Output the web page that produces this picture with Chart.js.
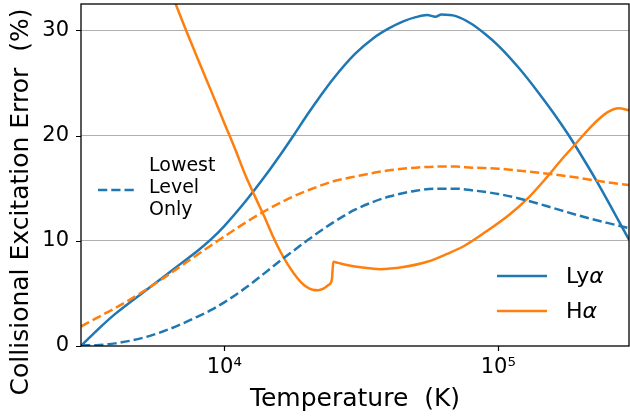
<!DOCTYPE html>
<html>
<head>
<meta charset="utf-8">
<script src="https://cdn.jsdelivr.net/npm/chart.js@4"></script>
<style>
  html, body { margin: 0; padding: 0; background: #fff; }
  canvas { display: block; }
</style>
</head>
<body>
<canvas id="chart" width="630" height="416"></canvas>
<script>
// temperature (K) and error (%) for each curve
const lyaT   = [3000, 3500, 4000, 5000, 6000, 7000, 8000, 9000, 10000, 12000, 14000, 16000, 18000, 20000, 22500, 25000, 30000, 35000, 40000, 45000, 50000, 55000, 59000, 62000, 70000, 80000, 90000, 100000, 120000, 140000, 160000, 180000, 200000, 230000, 260000, 300000];
const lyaErr = [0, 1.7, 3.05, 5.0, 6.55, 7.9, 9.05, 10.2, 11.4, 13.8, 16.05, 18.15, 20.1, 21.9, 23.8, 25.4, 27.75, 29.25, 30.2, 30.85, 31.25, 31.45, 31.3, 31.5, 31.35, 30.6, 29.6, 28.55, 26.3, 24.1, 22.05, 20.1, 18.2, 15.55, 13.05, 10.1];

const haT    = [6000, 7000, 8000, 9000, 10000, 11000, 12000, 13000, 14000, 15000, 16000, 17000, 18000, 19000, 20000, 21000, 22000, 23000, 24000, 24700, 25000, 26000, 28000, 32000, 37000, 45000, 55000, 65000, 75000, 90000, 110000, 130000, 150000, 170000, 190000, 220000, 250000, 275000, 300000];
const haErr  = [35.5, 31.0, 27.3, 24.1, 21.2, 18.6, 16.1, 14.1, 12.3, 10.5, 9.0, 7.8, 6.85, 6.1, 5.6, 5.35, 5.3, 5.45, 5.8, 6.3, 8.0, 7.9, 7.7, 7.45, 7.3, 7.5, 8.0, 8.75, 9.5, 10.85, 12.5, 14.2, 16.0, 17.7, 19.1, 20.95, 22.2, 22.6, 22.4];

// "lowest level only" versions
const lyaLowT   = [3000, 3500, 4000, 5000, 6000, 7000, 8000, 9000, 10000, 12000, 14000, 16000, 18000, 20000, 25000, 30000, 35000, 40000, 50000, 60000, 70000, 80000, 100000, 120000, 150000, 200000, 250000, 300000];
const lyaLowErr = [0.05, 0.1, 0.25, 0.75, 1.4, 2.1, 2.8, 3.45, 4.15, 5.55, 6.9, 8.1, 9.1, 10.0, 11.75, 12.95, 13.7, 14.2, 14.75, 14.95, 14.95, 14.8, 14.45, 14.0, 13.3, 12.35, 11.7, 11.2];

const haLowT    = [3000, 3500, 4000, 5000, 6000, 7000, 8000, 9000, 10000, 12000, 14000, 16000, 18000, 20000, 25000, 30000, 40000, 50000, 60000, 70000, 80000, 100000, 120000, 160000, 200000, 250000, 300000];
const haLowErr  = [1.85, 2.8, 3.6, 5.1, 6.45, 7.65, 8.7, 9.6, 10.4, 11.75, 12.8, 13.6, 14.25, 14.75, 15.65, 16.1, 16.7, 16.95, 17.05, 17.05, 16.95, 16.85, 16.65, 16.3, 15.95, 15.55, 15.3];

const xTicks = [3000, 4000, 5000, 6000, 7000, 8000, 9000, 10000, 20000, 30000, 40000, 50000, 60000, 70000, 80000, 90000, 100000, 200000, 300000];
const xLabels = { 10000: '10\u2074', 100000: '10\u2075' };
const yTicks = [0, 2, 4, 6, 8, 10, 12, 14, 16, 18, 20, 22, 24, 26, 28, 30, 32];

const BLUE = '#1f77b4';
const ORANGE = '#ff7f0e';
const FONT = "'DejaVu Sans', sans-serif";
const DASH = [9.25, 4];

const pts = (xs, ys) => xs.map((v, i) => ({ x: v, y: ys[i] }));

function line(data, color, dashed, order) {
  return {
    data,
    borderColor: color,
    borderWidth: 2.5,
    borderDash: dashed ? DASH : [],
    pointRadius: 0,
    cubicInterpolationMode: 'monotone',
    fill: false,
    order
  };
}

// spines, tick marks, axis titles and the two legends
const decorations = {
  id: 'decorations',
  afterDraw(chart) {
    const { ctx, chartArea: a, scales: { x, y } } = chart;
    ctx.save();
    ctx.strokeStyle = '#000';
    ctx.lineWidth = 1.2;

    ctx.beginPath();
    x.ticks.forEach(t => {
      const px = Math.round(x.getPixelForValue(t.value)) + 0.5;
      const major = t.value === 10000 || t.value === 100000;
      ctx.moveTo(px, a.bottom);
      ctx.lineTo(px, a.bottom + (major ? 5 : 3));
    });
    y.ticks.forEach(t => {
      const py = Math.round(y.getPixelForValue(t.value)) + 0.5;
      const major = t.value % 10 === 0;
      ctx.moveTo(a.left, py);
      ctx.lineTo(a.left - (major ? 5 : 3), py);
    });
    ctx.stroke();

    ctx.lineWidth = 1.3;
    ctx.strokeRect(a.left, a.top, a.right - a.left, a.bottom - a.top);

    ctx.fillStyle = '#000';
    ctx.font = '25px ' + FONT;
    ctx.textAlign = 'center';
    ctx.textBaseline = 'alphabetic';
    ctx.fillText('Temperature  (K)', (a.left + a.right) / 2, 406);

    ctx.save();
    ctx.translate(28, 202);
    ctx.rotate(-Math.PI / 2);
    ctx.fillText('Collisional Excitation Error  (%)', 0, 0);
    ctx.restore();

    // legend: dashed = lowest level only
    ctx.lineWidth = 2.5;
    ctx.strokeStyle = BLUE;
    ctx.setLineDash(DASH);
    ctx.beginPath();
    ctx.moveTo(98, 190);
    ctx.lineTo(134, 190);
    ctx.stroke();
    ctx.setLineDash([]);

    ctx.font = '19px ' + FONT;
    ctx.textAlign = 'left';
    ctx.textBaseline = 'middle';
    ['Lowest', 'Level', 'Only'].forEach((s, i) => ctx.fillText(s, 149, 166 + i * 22));

    // legend: line species
    [['Ly', BLUE, 276], ['H', ORANGE, 311]].forEach(([name, color, ly]) => {
      ctx.strokeStyle = color;
      ctx.beginPath();
      ctx.moveTo(497, ly);
      ctx.lineTo(547, ly);
      ctx.stroke();
      ctx.font = '22px ' + FONT;
      ctx.fillText(name, 566, ly + 1);
      const w = ctx.measureText(name).width;
      ctx.font = 'italic 22px ' + FONT;
      ctx.fillText('\u03b1', 566 + w, ly + 1);
    });
    ctx.restore();
  }
};

new Chart(document.getElementById('chart'), {
  type: 'line',
  data: {
    datasets: [
      line(pts(lyaT, lyaErr), BLUE, false, 4),
      line(pts(haT, haErr), ORANGE, false, 3),
      line(pts(lyaLowT, lyaLowErr), BLUE, true, 2),
      line(pts(haLowT, haLowErr), ORANGE, true, 1)
    ]
  },
  options: {
    responsive: false,
    animation: false,
    devicePixelRatio: 1,
    layout: { padding: { top: 4, right: 1, left: 0, bottom: 0 } },
    plugins: { legend: { display: false }, tooltip: { enabled: false } },
    scales: {
      x: {
        type: 'logarithmic',
        min: 3000,
        max: 300000,
        afterBuildTicks: s => { s.ticks = xTicks.map(v => ({ value: v })); },
        afterFit: s => { s.height = 70; s.paddingLeft = 0; s.paddingRight = 0; },
        grid: { display: false, drawTicks: false },
        border: { display: false },
        ticks: {
          autoSkip: false,
          maxRotation: 0,
          padding: 9,
          color: '#000',
          font: { family: FONT, size: 21 },
          callback: v => xLabels[v] || null
        }
      },
      y: {
        type: 'linear',
        min: 0,
        max: 32.5,
        afterBuildTicks: s => { s.ticks = yTicks.map(v => ({ value: v })); },
        afterFit: s => { s.width = 81; s.paddingTop = 0; s.paddingBottom = 0; },
        grid: {
          drawTicks: false,
          color: c => (c.tick && c.tick.value % 10 === 0 && c.tick.value > 0) ? '#b0b0b0' : 'rgba(0,0,0,0)',
          lineWidth: 1
        },
        border: { display: false },
        ticks: {
          padding: 12,
          color: '#000',
          font: { family: FONT, size: 21 },
          callback: v => (v % 10 === 0 ? String(v) : null)
        }
      }
    }
  },
  plugins: [decorations]
});
</script>
</body>
</html>
